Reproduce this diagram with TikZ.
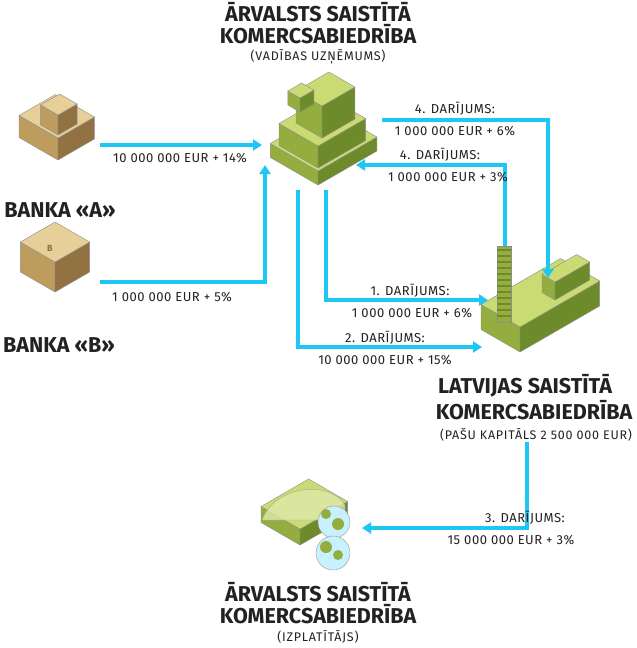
\documentclass[tikz,border=0pt]{standalone}
\usepackage{fontspec}
\setmainfont{Fira Sans}
\newfontfamily\labfont{Fira Sans}[LetterSpace=4]
\newfontfamily\subfont{Fira Sans}[LetterSpace=6]
\usetikzlibrary{arrows.meta}
\definecolor{gT}{HTML}{C9DB72}\definecolor{gL}{HTML}{93AE3E}\definecolor{gR}{HTML}{6E8B2C}
\definecolor{bT}{HTML}{E6CF98}\definecolor{bL}{HTML}{BE9C5E}\definecolor{bR}{HTML}{927243}
\definecolor{arr}{HTML}{1EC6F4}\definecolor{txt}{HTML}{222222}
\newcommand\ibox[6]{%
\filldraw[draw=black!45,fill=#6L] (#1,#2) -- ({#1-0.866*#3},{#2-0.5*#3}) -- ({#1-0.866*#3},{#2-0.5*#3-#5}) -- (#1,{#2-#5}) -- cycle;
\filldraw[draw=black!45,fill=#6R] (#1,#2) -- ({#1+0.866*#4},{#2-0.5*#4}) -- ({#1+0.866*#4},{#2-0.5*#4-#5}) -- (#1,{#2-#5}) -- cycle;
\filldraw[draw=black!45,fill=#6T] (#1,{#2-#5}) -- ({#1-0.866*#3},{#2-0.5*#3-#5}) -- ({#1-0.866*#3+0.866*#4},{#2-#5-0.5*#3-0.5*#4}) -- ({#1+0.866*#4},{#2-0.5*#4-#5}) -- cycle;}
\tikzset{
 flow/.style={arr,line width=3.5pt,-{Triangle[length=9pt,width=11pt]}},
 lab/.style={text=txt,font=\labfont\fontsize{13}{15}\selectfont,inner sep=0pt,align=center},
 ttl/.style={text=txt,font=\bfseries\fontsize{21.5}{24}\selectfont,inner sep=0pt},
 sub/.style={text=txt,font=\subfont\fontsize{12.5}{14}\selectfont,inner sep=0pt}
}
\begin{document}
\begin{tikzpicture}[x=1pt,y=-1pt]
\useasboundingbox (0,0) rectangle (637,648);
% titles
\node[ttl] (t1) at (318,12) {ĀRVALSTS SAISTĪTĀ};
\node[ttl] (t2) at (318,34) {KOMERCSABIEDRĪBA};
\node[sub] (t3) at (318,57) {(VADĪBAS UZŅĒMUMS)};
\node[ttl] (l1) at (525,386) {LATVIJAS SAISTĪTĀ};
\node[ttl] (l2) at (534,410) {KOMERCSABIEDRĪBA};
\node[sub] (l3) at (536,435) {(PAŠU KAPITĀLS 2 500 000 EUR)};
\node[ttl] (d1) at (318,592) {ĀRVALSTS SAISTĪTĀ};
\node[ttl] (d2) at (318,614) {KOMERCSABIEDRĪBA};
\node[sub] (d3) at (318,637) {(IZPLATĪTĀJS)};
\node[ttl] (ba) at (60,210) {BANKA «A»};
\node[ttl] (bb) at (59,345) {BANKA «B»};
% HQ building
\ibox{318}{185}{55}{68}{14}{g}
\ibox{318}{168}{45}{55}{22}{g}
\ibox{322}{138}{30}{38}{32}{g}
\ibox{300}{112}{14}{16}{14}{g}
% bank A
\ibox{58}{160}{45}{42}{22}{b}
\ibox{58}{135}{20}{22}{20}{b}
\node[font=\bfseries\small,text=bR] (aa) at (62,118) {A};
% bank B
\ibox{55}{292}{40}{40}{30}{b}
\node[font=\bfseries\small,text=bR] (bbl) at (50,248) {B};
% factory
\ibox{520}{352}{45}{92}{25}{g}
\ibox{555}{300}{15}{40}{18}{g}
\fill[gL,draw=black!45] (497,246) rectangle (511,322);
\foreach \yy in {250,256,...,318} \draw[gR,line width=1.2pt] (497,\yy) -- (511,\yy);
% greenhouse
\ibox{300}{545}{45}{55}{16}{g}
\filldraw[draw=black!40,fill=gT!60!white,opacity=.8] (262,520) .. controls (275,485) and (330,480) .. (345,505) -- (345,520) -- cycle;
\filldraw[draw=black!40,fill=arr!25!white] (334,522) circle (16);
\fill[gL] (334,522) ++(-8,-8) circle (5) ++(12,10) circle (6);
\filldraw[draw=black!40,fill=arr!25!white] (333,553) circle (17);
\fill[gL] (333,553) ++(-7,-6) circle (6) ++(12,8) circle (5);
% anchor coordinates
\coordinate (aOut) at (100,145); \coordinate (hqA) at (262,145);
\coordinate (bOut) at (100,282); \coordinate (hqB) at (265,165);
\coordinate (hqR) at (382,120); \coordinate (facTop) at (548,278);
\coordinate (chim) at (505,246); \coordinate (hqIn) at (356,165);
\coordinate (hq1) at (326,190); \coordinate (fac1) at (488,300);
\coordinate (hq2) at (298,190); \coordinate (fac2) at (482,347);
\coordinate (facB) at (527,442); \coordinate (gh) at (362,528);
% flows
\draw[flow] (aOut) -- (hqA);
\draw[flow] (bOut) -| (hqB);
\draw[flow] (hqR) -| (facTop);
\draw[flow] (chim) |- (hqIn);
\draw[flow] (hq1) |- (fac1);
\draw[flow] (hq2) |- (fac2);
\draw[flow] (facB) |- (gh);
% labels
\node[lab] (f1) at (180,158) {10 000 000 EUR + 14\%};
\node[lab] (f2) at (172,297) {1 000 000 EUR + 5\%};
\node[lab] (f3a) at (455,109) {4. DARĪJUMS:};
\node[lab] (f3b) at (455,131) {1 000 000 EUR + 6\%};
\node[lab] (f4a) at (440,155) {4. DARĪJUMS:};
\node[lab] (f4b) at (448,177) {1 000 000 EUR + 3\%};
\node[lab] (f5a) at (410,291) {1. DARĪJUMS:};
\node[lab] (f5b) at (412,313) {1 000 000 EUR + 6\%};
\node[lab] (f6a) at (385,338) {2. DARĪJUMS:};
\node[lab] (f6b) at (385,360) {10 000 000 EUR + 15\%};
\node[lab] (f7a) at (525,518) {3. DARĪJUMS:};
\node[lab] (f7b) at (511,540) {15 000 000 EUR + 3\%};
\end{tikzpicture}
\end{document}
